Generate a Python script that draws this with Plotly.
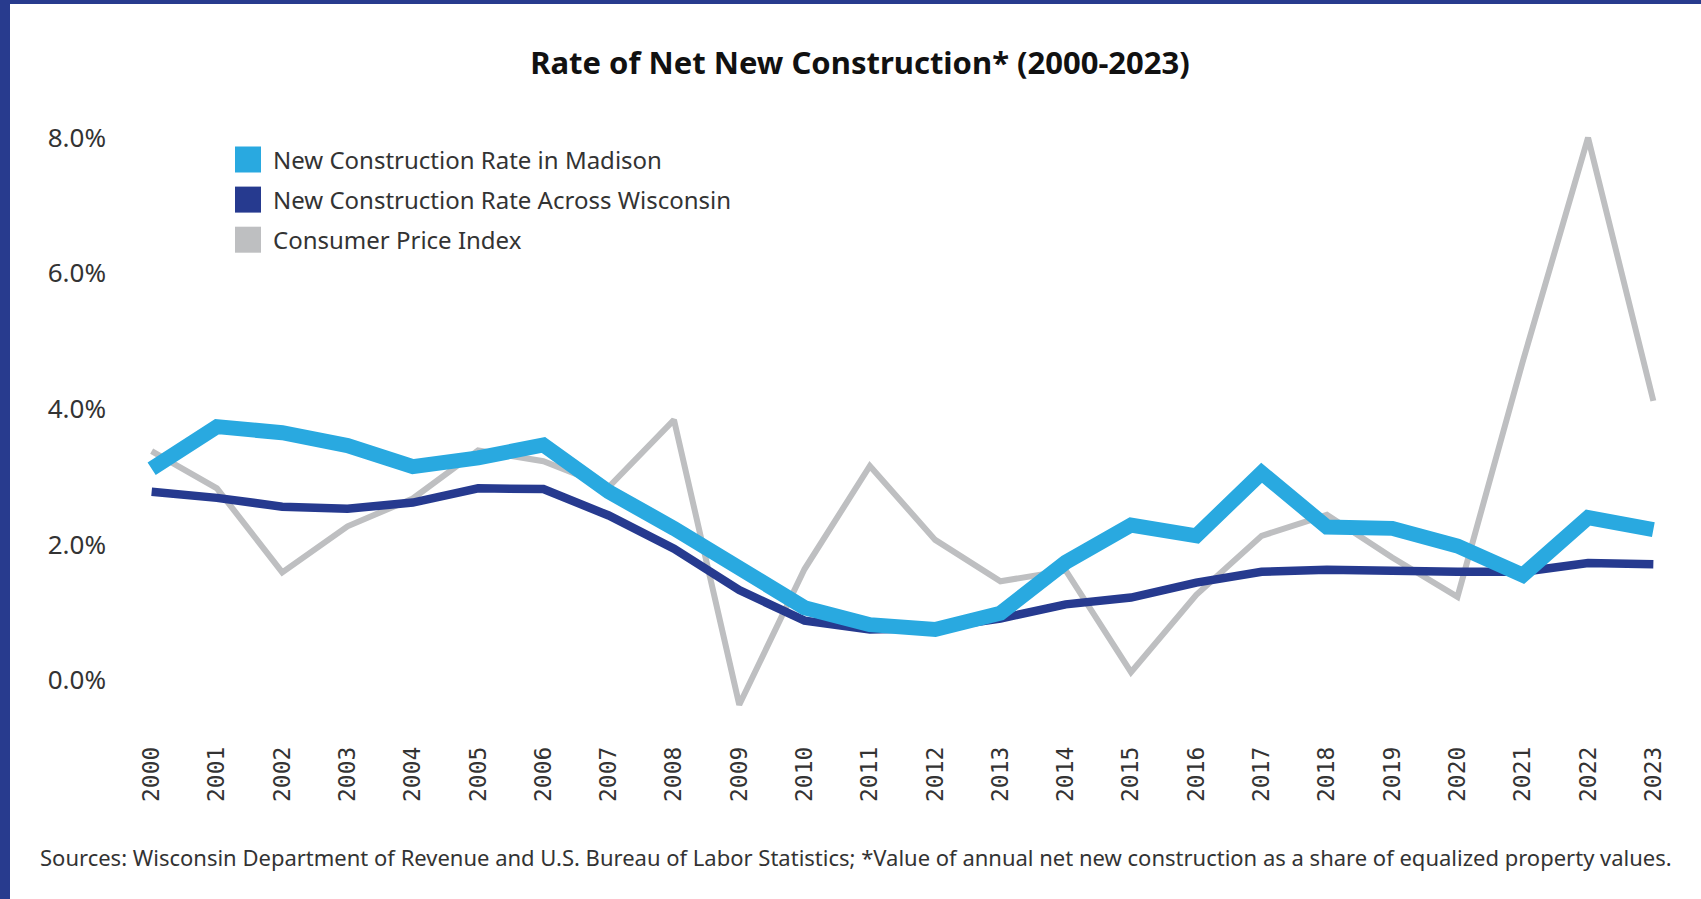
import plotly.graph_objects as go

years = list(range(2000, 2024))
madison = [3.12, 3.74, 3.65, 3.46, 3.15, 3.28, 3.47, 2.78, 2.24, 1.63, 1.07, 0.82,
           0.75, 0.99, 1.74, 2.29, 2.13, 3.06, 2.26, 2.24, 1.98, 1.55, 2.40, 2.22]
wisconsin = [2.78, 2.69, 2.56, 2.53, 2.62, 2.83, 2.82, 2.43, 1.94, 1.33, 0.88, 0.75,
             0.77, 0.91, 1.12, 1.22, 1.44, 1.60, 1.63, 1.60, 1.60, 1.60, 1.73, 1.71]
cpi = [3.38, 2.83, 1.59, 2.27, 2.68, 3.39, 3.23, 2.85, 3.84, -0.36, 1.64, 3.16,
       2.07, 1.46, 1.62, 0.12, 1.26, 2.13, 2.44, 1.81, 1.23, 4.70, 8.00, 4.12]
series_names = ["New Construction Rate in Madison",
                "New Construction Rate Across Wisconsin",
                "Consumer Price Index"]
y_ticks = [0, 2, 4, 6, 8]
y_tick_labels = ["0.0%", "2.0%", "4.0%", "6.0%", "8.0%"]

C_MAD = "#29A9E0"
C_WI = "#263A8F"
C_CPI = "#BEBFC1"
NAVY = "#283B8E"
colors = [C_MAD, C_WI, C_CPI]

W, H = 1701, 899
ML, MR, MT, MB = 119, 15, 97, 178
PW = W - ML - MR
PH = H - MT - MB


def px_x(px):
    return (px - ML) / PW


def px_y(py):
    return (H - MB - py) / PH


fig = go.Figure()
# lines (drawn bottom to top)
fig.add_trace(go.Scatter(x=years, y=cpi, mode="lines", name=series_names[2],
                         showlegend=False, line=dict(color=C_CPI, width=6)))
fig.add_trace(go.Scatter(x=years, y=wisconsin, mode="lines", name=series_names[1],
                         showlegend=False, line=dict(color=C_WI, width=8.5)))
fig.add_trace(go.Scatter(x=years, y=madison, mode="lines", name=series_names[0],
                         showlegend=False, line=dict(color=C_MAD, width=15)))

font_main = "Noto Sans"

# custom legend (large square swatches)
shapes = []
annotations = []
row_y = [159.5, 199.6, 239.7]
sq = 26
for name, col, yc in zip(series_names, colors, row_y):
    shapes.append(dict(type="rect", xref="paper", yref="paper",
                       x0=px_x(235), x1=px_x(235 + sq),
                       y0=px_y(yc + sq / 2), y1=px_y(yc - sq / 2),
                       fillcolor=col, line=dict(width=0)))
    annotations.append(dict(text=name, x=px_x(271), y=px_y(yc), xref="paper", yref="paper",
                            xanchor="left", yanchor="middle", showarrow=False,
                            font=dict(family=font_main, size=24, color="#333333")))

annotations.append(dict(
    text="Sources: Wisconsin Department of Revenue and U.S. Bureau of Labor Statistics; "
         "*Value of annual net new construction as a share of equalized property values.",
    x=px_x(856), y=px_y(857), xref="paper", yref="paper",
    xanchor="center", yanchor="middle", showarrow=False,
    font=dict(family=font_main, size=22, color="#333333")))

# frame bands (left and top)
shapes.append(dict(type="rect", xref="paper", yref="paper",
                   x0=px_x(0), x1=px_x(10), y0=px_y(H), y1=px_y(0),
                   fillcolor=NAVY, line=dict(width=0), layer="above"))
shapes.append(dict(type="rect", xref="paper", yref="paper",
                   x0=px_x(0), x1=px_x(W), y0=px_y(4), y1=px_y(0),
                   fillcolor=NAVY, line=dict(width=0), layer="above"))

fig.update_layout(
    width=W, height=H,
    margin=dict(l=ML, r=MR, t=MT, b=MB),
    paper_bgcolor="white", plot_bgcolor="white",
    showlegend=False,
    title=dict(text="<b>Rate of Net New Construction* (2000-2023)</b>",
               x=px_x(860), xref="paper", xanchor="center",
               y=1 - 63 / H, yref="container", yanchor="middle",
               font=dict(family=font_main, size=31, color="#111111")),
    xaxis=dict(range=[1999.5, 2023.5], tickmode="array", tickvals=years,
               ticktext=[str(y) for y in years], tickangle=-90,
               tickfont=dict(family="DejaVu Sans Mono", size=23, color="#333333"),
               showgrid=False, zeroline=False, showline=False, ticks="",
               ticklabelstandoff=20),
    yaxis=dict(range=[-0.6, 8.6], tickmode="array", tickvals=y_ticks,
               ticktext=y_tick_labels,
               tickfont=dict(family=font_main, size=26, color="#333333"),
               showgrid=False, zeroline=False, showline=False, ticks="",
               ticklabelstandoff=12),
    annotations=annotations,
    shapes=shapes,
)

fig.write_html("out.html", config={"displayModeBar": False},
               post_script="document.body.style.margin='0';")
